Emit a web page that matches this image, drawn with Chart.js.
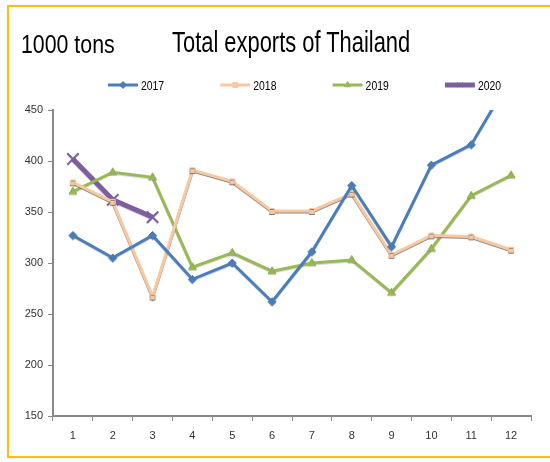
<!DOCTYPE html>
<html>
<head>
<meta charset="utf-8">
<script src="https://cdn.jsdelivr.net/npm/chart.js@4/dist/chart.umd.min.js"></script>
<style>
  html, body { margin:0; padding:0; background:#fff; overflow:hidden; }
  #wrap { position:relative; width:550px; height:462px; }
  #frame { position:absolute; left:7px; top:5px; width:560px; height:453px; border:2px solid #FFC000; box-sizing:border-box; }
  .ttl { position:absolute; font-family:"Liberation Sans", Arial, sans-serif; color:#000; white-space:nowrap; line-height:1; transform-origin:0 0; }
  #unit { left:21px; top:31px; font-size:26px; transform:scaleX(0.82); }
  #main { left:172px; top:27px; font-size:30px; transform:scaleX(0.73); }
  canvas { position:absolute; left:0; top:0; }
</style>
</head>
<body>
<div id="wrap">
  <div id="frame"></div>
  <canvas id="chart" width="550" height="462"></canvas>
  <div class="ttl" id="unit">1000 tons</div>
  <div class="ttl" id="main">Total exports of Thailand</div>
</div>
<script>
// months 1..12
var months = ['1','2','3','4','5','6','7','8','9','10','11','12'];
var years = ['2017','2018','2019','2020'];
var exports2017 = [327, 305, 327, 284, 300, 262, 311, 376, 316, 396, 416, 482];
var exports2018 = [379, 360, 267, 391, 380, 351, 351, 368, 308, 327, 326, 313];
var exports2019 = [370, 389, 384, 296, 310, 292, 300, 303, 271, 314, 366, 386];
var exports2020 = [402, 362, 345];
var yMin = 150, yMax = 450, yStep = 50;

var font = "Liberation Sans";

// thin grey shadow under the lines, like the excel chart
var shadowPlugin = {
  id: 'shadow',
  beforeDatasetDraw: function(chart, args){
    var ctx = chart.ctx;
    ctx.save();
    ctx.shadowColor = args.index === 1 ? 'rgba(90,90,90,0.7)' : 'rgba(90,90,90,0.25)';
    ctx.shadowOffsetX = 0;
    ctx.shadowOffsetY = 1;
    ctx.shadowBlur = 0;
  },
  afterDatasetDraw: function(chart){
    chart.ctx.restore();
  }
};

// legend drawn like excel: line with marker in the middle
var legendPlugin = {
  id: 'xlLegend',
  afterDraw: function(chart){
    var ctx = chart.ctx;
    var y = 85;
    chart.data.datasets.forEach(function(ds, i){
      var x0 = 108 + i * 112.3;
      ctx.save();
      ctx.strokeStyle = ds.borderColor;
      ctx.fillStyle = ds.pointBackgroundColor;
      ctx.lineWidth = ds.borderWidth;
      ctx.beginPath();
      ctx.moveTo(x0, y);
      ctx.lineTo(x0 + 30, y);
      ctx.stroke();
      ctx.lineWidth = 1;
      Chart.helpers.drawPoint(ctx, {
        pointStyle: ds.pointStyle,
        radius: Math.min(ds.pointRadius, 3.5),
        rotation: 0,
        borderWidth: ds.pointBorderWidth || 1
      }, x0 + 15, y);
      ctx.fillStyle = '#000';
      ctx.font = '13px ' + font;
      ctx.textBaseline = 'middle';
      ctx.textAlign = 'left';
      ctx.translate(x0 + 33, y + 1);
      ctx.scale(0.8, 1);
      ctx.fillText(ds.label, 0, 0);
      ctx.restore();
    });
  }
};

function series(label, data, color, style, radius, width){
  return {
    label: label,
    data: data,
    borderColor: color,
    backgroundColor: color,
    pointBackgroundColor: color,
    pointBorderColor: color,
    borderWidth: width,
    pointStyle: style,
    pointRadius: radius,
    pointBorderWidth: style === 'crossRot' ? 2 : 1,
    tension: 0
  };
}

new Chart(document.getElementById('chart'), {
  type: 'line',
  data: {
    labels: months,
    datasets: [
      series(years[0], exports2017, '#4A7EBB', 'rectRot', 4, 3),
      series(years[1], exports2018, '#FAC8A0', 'rect', 3.5, 3),
      series(years[2], exports2019, '#98B954', 'triangle', 4.5, 3),
      series(years[3], exports2020, '#7D5FA0', 'crossRot', 8, 5)
    ]
  },
  options: {
    responsive: false,
    animation: false,
    events: [],
    layout: { padding: { left: 0, right: 19, top: 110, bottom: 14 } },
    plugins: { legend: { display: false }, title: { display: false }, tooltip: { enabled: false } },
    scales: {
      x: {
        offset: true,
        grid: { display: true, offset: true, drawOnChartArea: false, tickLength: 5, color: '#888' },
        border: { color: '#888', width: 2 },
        ticks: { color: '#333', font: { family: font, size: 11 }, padding: 8, maxRotation: 0 },
        afterFit: function(s){ s.height = 32; }
      },
      y: {
        min: yMin, max: yMax,
        grid: { display: true, drawOnChartArea: false, tickLength: 5, color: '#888' },
        border: { color: '#888', width: 2 },
        ticks: { stepSize: yStep, color: '#333', font: { family: font, size: 11 }, padding: 5 },
        afterFit: function(s){ s.width = 53; }
      }
    }
  },
  plugins: [shadowPlugin, legendPlugin]
});
</script>
</body>
</html>
